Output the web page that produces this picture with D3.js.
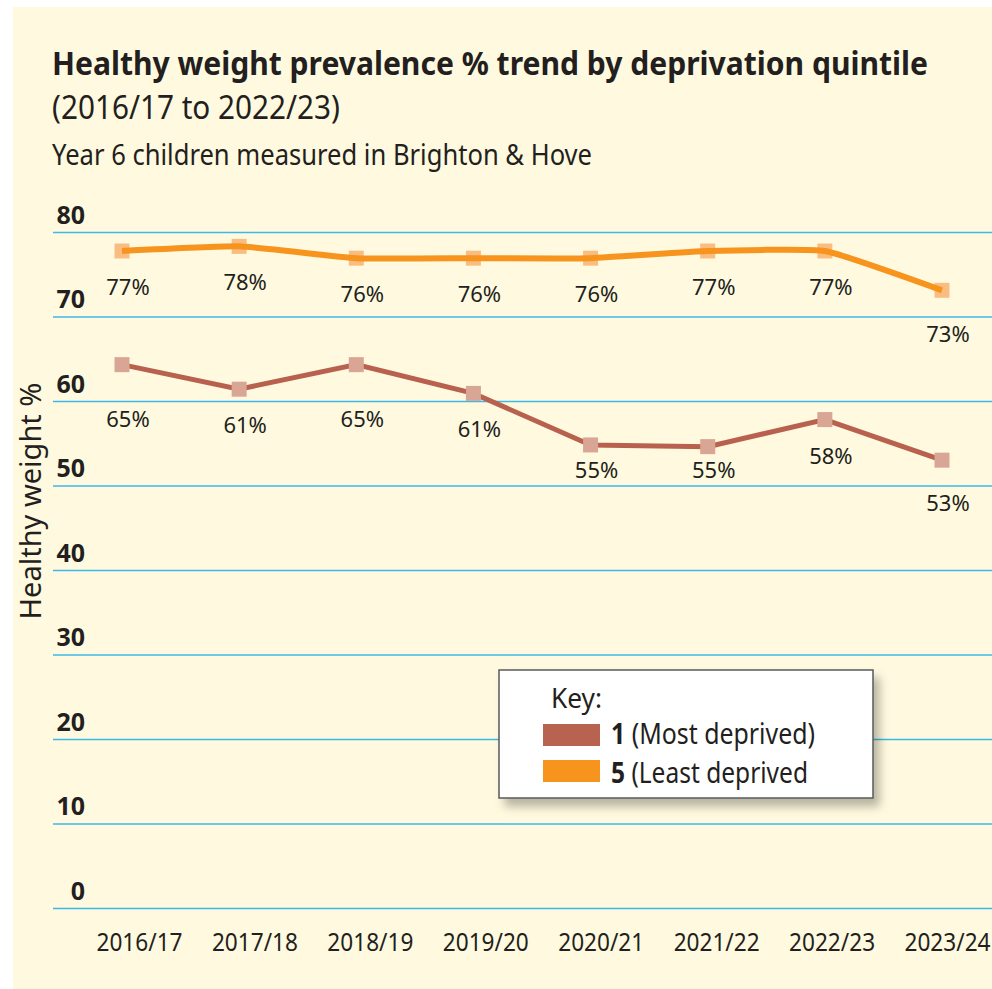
<!DOCTYPE html>
<html lang="en">
  <head>
    <meta charset="UTF-8" />
    <title>Healthy weight prevalence</title>
    <style>
      html, body { margin: 0; padding: 0; background: #fff; }
      svg { display: block; font-family: "Noto Sans", sans-serif; }
    </style>
  </head>
  <body>
    <svg id="chart" width="992" height="989"></svg>
    <script src="https://cdn.jsdelivr.net/npm/d3@7"></script>
    <script>
      // data
      const years = ["2016/17", "2017/18", "2018/19", "2019/20", "2020/21", "2021/22", "2022/23", "2023/24"];
      const leastDeprived = [77.75, 78.3, 76.9, 76.9, 76.9, 77.75, 77.75, 73.1];
      const mostDeprived = [64.3, 61.4, 64.3, 60.9, 54.8, 54.6, 57.8, 53.0];
      const leastLabels = ["77%", "78%", "76%", "76%", "76%", "77%", "77%", "73%"];
      const mostLabels = ["65%", "61%", "65%", "61%", "55%", "55%", "58%", "53%"];
      const yTicks = [0, 10, 20, 30, 40, 50, 60, 70, 80];

      const svg = d3.select("#chart");

      const defs = svg.append("defs");
      const shadow = defs.append("filter").attr("id", "shadow")
        .attr("x", "-10%").attr("y", "-10%").attr("width", "130%").attr("height", "140%");
      shadow.append("feDropShadow")
        .attr("dx", 6).attr("dy", 8).attr("stdDeviation", 5)
        .attr("flood-color", "#000").attr("flood-opacity", 0.28);

      // cream panel
      svg.append("rect")
        .attr("x", 13).attr("y", 7).attr("width", 979).attr("height", 982)
        .attr("fill", "#fffadf");

      // headings
      svg.append("text")
        .attr("x", 52).attr("y", 75)
        .attr("font-size", 33).attr("font-weight", "bold").attr("fill", "#231f20")
        .attr("textLength", 876).attr("lengthAdjust", "spacingAndGlyphs")
        .text("Healthy weight prevalence % trend by deprivation quintile");
      svg.append("text")
        .attr("x", 52).attr("y", 119)
        .attr("font-size", 32).attr("fill", "#231f20")
        .attr("textLength", 288).attr("lengthAdjust", "spacingAndGlyphs")
        .text("(2016/17 to 2022/23)");
      svg.append("text")
        .attr("x", 52).attr("y", 165)
        .attr("font-size", 29).attr("fill", "#231f20")
        .attr("textLength", 540).attr("lengthAdjust", "spacingAndGlyphs")
        .text("Year 6 children measured in Brighton & Hove");

      const y = d3.scaleLinear().domain([0, 80]).range([908, 232]);
      const x = d3.scalePoint().domain(years).range([122, 942]);
      // the year labels sit a little to the right of the markers
      const xLab = d3.scalePoint().domain(years).range([139, 947]);

      // gridlines + bold tick labels sitting above each line
      const yAxis = svg.append("g")
        .attr("transform", "translate(53,0)")
        .call(d3.axisRight(y).tickValues(yTicks).tickSize(939).tickFormat(d3.format("d")));
      yAxis.select(".domain").remove();
      yAxis.selectAll(".tick line").attr("stroke", "#3cb9e8").attr("stroke-width", 1.6);
      yAxis.selectAll(".tick text")
        .attr("x", 32).attr("dy", "-0.35em").attr("text-anchor", "end")
        .attr("font-size", 25).attr("font-weight", "bold").attr("fill", "#231f20")
        .attr("font-family", "Noto Sans");

      svg.append("text")
        .attr("transform", "translate(41,501) rotate(-90)")
        .attr("text-anchor", "middle")
        .attr("font-size", 29).attr("fill", "#231f20")
        .text("Healthy weight %");

      // x axis labels
      const xAxis = svg.append("g")
        .attr("transform", "translate(0,908)")
        .call(d3.axisBottom(xLab).tickSize(0).tickPadding(43));
      xAxis.select(".domain").remove();
      xAxis.selectAll(".tick text")
        .attr("dy", 0)
        .attr("font-size", 25).attr("fill", "#231f20")
        .attr("font-family", "Noto Sans")
        .attr("textLength", 86).attr("lengthAdjust", "spacingAndGlyphs");

      // value labels go 36px under the marker, nudged off any gridline they would sit on
      function labelY(v) {
        let c = y(v) + 36;
        const g = y(yTicks.reduce((a, b) => Math.abs(y(b) - c) < Math.abs(y(a) - c) ? b : a));
        if (Math.abs(c - g) < 14) c = c > g - 2 ? g + 18 : g - 15;
        return c;
      }

      const series = [
        { name: "most", values: mostDeprived, labels: mostLabels, line: "#b8614f", marker: "#d9a594", curve: d3.curveLinear, width: 5, lineOnTop: false },
        { name: "least", values: leastDeprived, labels: leastLabels, line: "#f7941e", marker: "#f9bd82", curve: d3.curveCardinal.tension(0.6), width: 6, lineOnTop: true }
      ];

      series.forEach(s => {
        const pts = s.values.map((v, i) => ({ year: years[i], v, label: s.labels[i] }));
        const line = d3.line().x(d => x(d.year)).y(d => y(d.v)).curve(s.curve);
        const g = svg.append("g");

        const drawLine = () => g.append("path")
          .datum(pts)
          .attr("d", line)
          .attr("fill", "none")
          .attr("stroke", s.line)
          .attr("stroke-width", s.width);
        const drawMarkers = () => g.selectAll("rect.m-" + s.name)
          .data(pts)
          .enter()
          .append("rect")
          .attr("class", "m-" + s.name)
          .attr("x", d => x(d.year) - 7.5)
          .attr("y", d => y(d.v) - 7.5)
          .attr("width", 15).attr("height", 15)
          .attr("fill", s.marker);

        if (s.lineOnTop) { drawMarkers(); drawLine(); } else { drawLine(); drawMarkers(); }

        g.selectAll("text")
          .data(pts)
          .enter()
          .append("text")
          .attr("x", d => x(d.year) + 6)
          .attr("y", d => labelY(d.v))
          .attr("dy", "0.36em")
          .attr("text-anchor", "middle")
          .attr("font-size", 22).attr("fill", "#231f20")
          .text(d => d.label);
      });

      // key
      const key = svg.append("g").attr("transform", "translate(499,670)");
      key.append("rect")
        .attr("width", 374).attr("height", 128)
        .attr("fill", "#fff").attr("stroke", "#58595b").attr("stroke-width", 1.5)
        .attr("filter", "url(#shadow)");
      key.append("text")
        .attr("x", 52).attr("y", 38)
        .attr("font-size", 28).attr("fill", "#231f20")
        .attr("textLength", 51).attr("lengthAdjust", "spacingAndGlyphs")
        .text("Key:");

      const keyItems = [
        { num: "1", text: "(Most deprived)", color: "#b86350", width: 204 },
        { num: "5", text: "(Least deprived", color: "#f7941e", width: 197 }
      ];
      keyItems.forEach((k, i) => {
        key.append("rect")
          .attr("x", 44).attr("y", 54 + i * 36)
          .attr("width", 57).attr("height", 22)
          .attr("fill", k.color);
        const t = key.append("text")
          .attr("x", 112).attr("y", 74 + i * 39)
          .attr("font-size", 29).attr("fill", "#231f20")
          .attr("textLength", k.width).attr("lengthAdjust", "spacingAndGlyphs");
        t.append("tspan").attr("font-weight", "bold").text(k.num + " ");
        t.append("tspan").text(k.text);
      });
    </script>
  </body>
</html>
